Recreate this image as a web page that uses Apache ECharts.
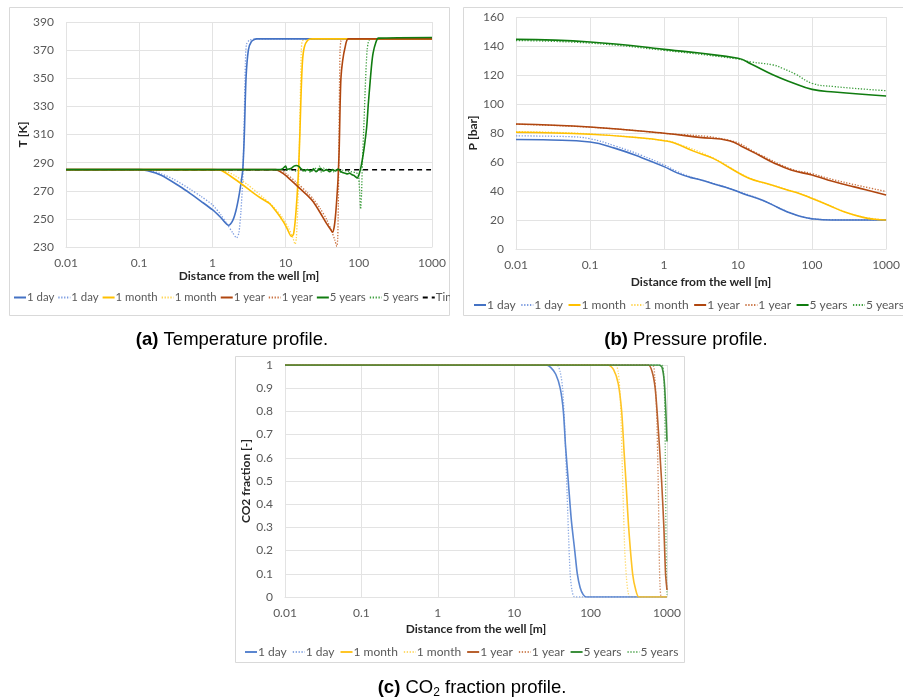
<!DOCTYPE html>
<html>
<head>
<meta charset="utf-8">
<title>Temperature, pressure and CO2 fraction profiles</title>
<script src="https://cdn.jsdelivr.net/npm/echarts@6/dist/echarts.min.js"></script>
<style>
  html, body { margin: 0; padding: 0; background: #ffffff; }
  #chart { width: 903px; height: 700px; }
</style>
</head>
<body>
<div id="chart"></div>
<script>
// ---- tick labels and legend labels ----
const xTicks = ['0.01', '0.1', '1', '10', '100', '1000'];
const caseLabels = ['1 day', '1 month', '1 year', '5 years'];
const injLabel = 'Tinj';

// ---- (a) temperature [K] vs distance [m] ----
const tDay = [[0.01,285],[0.1,285],[0.13,284.2],[0.2,281],[0.36,273],[0.5,268],[0.7,262.5],[1,256.5],[1.3,251],[1.66,245.5],[1.9,249],[2.1,256],[2.3,266],[2.5,278],[2.6,285],[2.73,310],[2.88,350],[3.1,370],[3.4,376],[4,378],[1000,378]];
const tDayDot = [[0.01,285],[0.12,285],[0.2,282],[0.3,278],[0.5,271],[0.7,266],[1,260],[1.3,253],[1.6,246],[1.9,240],[2.14,236.5],[2.3,240],[2.45,255],[2.6,278],[2.72,320],[2.82,360],[2.92,374],[3.2,377],[4,378],[1000,378]];
const tMonth = [[0.01,285],[1,285],[1.3,284.5],[1.7,281],[2.4,275.5],[3.5,269],[4.5,265],[6,261],[7.5,255],[9.3,248],[10.5,243],[12,237.5],[12.8,239],[13.5,248],[14.3,265],[15,284],[15.7,312],[16.3,340],[17,362],[18,372],[20,377],[23,378],[1000,378]];
const tMonthDot = [[0.01,285],[1.1,285],[1.4,284.5],[2,281],[3,274.5],[5,265],[7,258],[9.3,250],[11,243.5],[12.5,237],[13.5,232],[14,236],[14.6,255],[15.2,285],[15.8,330],[16.4,370],[17,376.5],[19,377.5],[25,378],[1000,378]];
const tYear = [[0.01,285],[7.4,285],[8.5,283.5],[10,281],[14,274],[20,266.5],[24,262],[30,254],[36,247],[40,243.5],[43.7,240.5],[46,244],[48,252],[50,264],[52,278],[54,300],[55.5,330],[57,350],[60,362],[65,372],[72,378],[1000,378]];
const tYearDot = [[0.01,285],[8,285],[10,282.5],[14,276],[20,268.5],[24,264],[30,257],[36,250],[42,242],[47,235],[50,230.5],[51.5,236],[52.5,260],[53.5,300],[54.5,345],[55.5,370],[57,376.5],[60,377.5],[75,378],[1000,378]];
const t5y = [[0.01,285],[8,285],[9,285.5],[10,287.5],[10.5,285],[11,285.5],[12,286],[13,287.5],[14,288],[15,287.5],[16,286],[17,285],[18,284.5],[20,285],[22,284],[24,285.5],[26,283.5],[28,285],[30,286],[33,284],[36,285],[40,283.5],[44,285],[48,284],[52,285.5],[56,284],[60,283],[65,282.5],[70,282],[75,282.5],[80,281.5],[85,281],[90,280],[95,279],[100,281],[105,285],[110,290],[118,300],[128,315],[135,332],[141,344],[150,360],[157,368],[170,375],[185,378.5],[1000,379]];
const t5yDot = [[0.01,285],[9,285],[10,284.5],[12,285],[14,284],[16,285.5],[18,283.5],[20,285],[22,283],[25,286.5],[27,284],[29,287.5],[31,283],[33,286],[36,284.5],[40,285.5],[45,283.5],[50,285],[55,283],[60,284.5],[70,284],[80,283.5],[90,283],[97,282],[100,279],[103,268],[106,257],[109,268],[112,290],[118,320],[124,350],[130,370],[138,377],[160,378],[1000,378.5]];
const tInj = [[0.01,285],[1000,285]];

// ---- (b) pressure [bar] vs distance [m] ----
const pDay = [[0.01,75.5],[0.03,75.2],[0.1,73.8],[0.22,69.4],[0.5,63],[1,56.8],[1.5,52.5],[2.25,49.4],[3,48],[5,44.5],[7.6,41.8],[12,38],[21,33.8],[35,28.5],[52,24.6],[75,22],[100,20.8],[180,20],[1000,20]];
const pDayDot = [[0.01,78],[0.05,77.5],[0.1,76],[0.22,71],[0.5,64.5],[1,58],[1.5,53.5],[2.25,49.8],[3,48],[7.6,41.8],[21,33.8],[52,24.8],[100,21],[180,20.2],[1000,20]];
const pMonth = [[0.01,80.5],[0.1,79.1],[0.5,76.5],[1,74.7],[1.35,73.3],[2.5,67.5],[4.6,62.5],[8,55.5],[14,48.8],[25,45],[43,41.2],[70,38],[98,35],[170,30],[270,25.7],[490,21.8],[700,20.5],[1000,20]];
const pMonthDot = [[0.01,81],[0.1,79.4],[1,74.9],[1.35,73.5],[4.6,62.8],[14,49.2],[43,41.5],[98,35.3],[270,25.9],[490,22],[1000,20.1]];
const pYear = [[0.01,86.2],[0.1,84.1],[1,79.8],[3,77],[7.6,74.7],[12,70],[19,64.8],[30,59.5],[52,54.5],[100,51],[163,47.6],[300,44],[447,41.8],[1000,37.2]];
const pYearDot = [[0.01,86],[0.1,84],[1,79.8],[7.6,75],[19,65.5],[52,55.2],[100,52],[163,48.8],[447,43.5],[1000,39.7]];
const p5y = [[0.01,144.6],[0.1,142.8],[1,137.7],[10,131.5],[15,127.6],[30,120],[50,115.4],[100,110.1],[200,108.3],[1000,105.5]];
const p5yDot = [[0.01,143.8],[0.1,142],[1,137],[10,131],[15,129],[30,126.9],[40,124.6],[60,120.5],[100,114.3],[200,112],[1000,109.2]];

// ---- (c) CO2 fraction [-] vs distance [m] ----
const cDay = [[0.01,1],[26,1],[30,0.99],[35,0.96],[40,0.9],[44,0.8],[47,0.65],[51,0.5],[56,0.33],[62,0.2],[67,0.1],[73,0.04],[80,0.01],[88,0],[1000,0]];
const cDayDot = [[0.01,1],[36,1],[40,0.97],[43,0.9],[46,0.72],[48.6,0.5],[51,0.3],[54,0.1],[57,0.03],[62,0],[1000,0]];
const cMonth = [[0.01,1],[170,1],[200,0.98],[230,0.92],[255,0.8],[275,0.62],[290,0.5],[315,0.3],[355,0.1],[390,0.03],[430,0],[1000,0]];
const cMonthDot = [[0.01,1],[210,1],[230,0.97],[245,0.85],[263,0.5],[280,0.2],[295,0.08],[310,0.02],[330,0],[1000,0]];
const cYear = [[0.01,1],[570,1],[640,0.97],[700,0.9],[760,0.75],[850,0.5],[910,0.3],[957,0.1],[1000,0.03]];
const cYearDot = [[0.01,1],[640,1],[690,0.95],[730,0.8],[767,0.5],[790,0.2],[810,0.05],[850,0],[1000,0]];
const c5y = [[0.01,1],[790,1],[860,0.99],[920,0.93],[960,0.82],[1000,0.67]];
const c5yDot = [[0.01,1],[850,1],[900,0.97],[930,0.85],[955,0.55],[970,0.25],[985,0.07],[1000,0.01]];

// ---- styling ----
const FONT = 'Lato';
const LABEL_COLOR = '#595959';
const NAME_COLOR = '#262626';
const GRID_COLOR = '#e3e3e3';
const solidColorsAB = ['#4472c4', '#ffc000', '#b0460f', '#107c10'];
const dotColorsAB = ['#7b9be0', '#ffd44f', '#c9703f', '#3f9f3f'];
const solidColorsC = ['#5b86d0', '#ffc526', '#b8612f', '#3d8f3d'];
const dotColorsC = ['#8eabe3', '#ffdb6e', '#d08a60', '#6fb56f'];

const chart = echarts.init(document.getElementById('chart'), null, { renderer: 'canvas' });

// legend names must be unique across panels; zero-width suffixes keep the text identical
let nameCounter = 0;
function uniqueName(label) {
  nameCounter += 1;
  return label + '\u200b'.repeat(nameCounter);
}

const series = [];
const legendNames = [[], [], []];

function addLine(panel, label, data, color, style) {
  const name = style === 'inj' ? label : uniqueName(label);
  legendNames[panel].push(name);
  let lineStyle;
  if (style === 'solid') lineStyle = { color, width: 1.6, type: 'solid' };
  else if (style === 'dotted') lineStyle = { color, width: 1.3, type: [1.3, 1.6] };
  else lineStyle = { color, width: 1.5, type: [5, 4] };
  series.push({
    type: 'line',
    name,
    xAxisIndex: panel,
    yAxisIndex: panel,
    data,
    showSymbol: false,
    symbol: 'none',
    // pressure profiles are gently curved; the sharp fronts in (a) and (c) keep a lighter smoothing
    smooth: panel === 1 ? 0.45 : 0.25,
    lineStyle,
    itemStyle: { color },
    emphasis: { disabled: true },
    animation: false,
    z: style === 'solid' ? 3 : 2
  });
}

const tempSets = [[tDay, tDayDot], [tMonth, tMonthDot], [tYear, tYearDot], [t5y, t5yDot]];
const presSets = [[pDay, pDayDot], [pMonth, pMonthDot], [pYear, pYearDot], [p5y, p5yDot]];
const fracSets = [[cDay, cDayDot], [cMonth, cMonthDot], [cYear, cYearDot], [c5y, c5yDot]];

tempSets.forEach((pair, i) => {
  addLine(0, caseLabels[i], pair[0], solidColorsAB[i], 'solid');
  addLine(0, caseLabels[i], pair[1], dotColorsAB[i], 'dotted');
});
addLine(0, injLabel, tInj, '#000000', 'inj');

presSets.forEach((pair, i) => {
  addLine(1, caseLabels[i], pair[0], solidColorsAB[i], 'solid');
  addLine(1, caseLabels[i], pair[1], dotColorsAB[i], 'dotted');
});

fracSets.forEach((pair, i) => {
  addLine(2, caseLabels[i], pair[0], solidColorsC[i], 'solid');
  addLine(2, caseLabels[i], pair[1], dotColorsC[i], 'dotted');
});

function logLabel(v) {
  const k = Math.round(Math.log10(v)) + 2;
  return xTicks[k] !== undefined ? xTicks[k] : '';
}

function xAxis(gridIndex, nameGap) {
  return {
    type: 'log',
    logBase: 10,
    gridIndex,
    min: 0.01,
    max: 1000,
    name: 'Distance from the well [m]',
    nameLocation: 'middle',
    nameGap,
    nameTextStyle: { fontFamily: FONT, fontSize: 12, fontWeight: 'bold', color: NAME_COLOR },
    axisLine: { show: true, lineStyle: { color: GRID_COLOR, width: 1 } },
    axisTick: { show: false },
    minorTick: { show: false },
    axisLabel: { fontFamily: FONT, fontSize: 12, color: LABEL_COLOR, margin: 10, formatter: logLabel },
    splitLine: { show: true, lineStyle: { color: GRID_COLOR, width: 1 } }
  };
}

function yAxis(gridIndex, name, min, max, interval, nameGap, fmt) {
  return {
    type: 'value',
    gridIndex,
    min,
    max,
    interval,
    name,
    nameLocation: 'middle',
    nameGap,
    nameTextStyle: { fontFamily: FONT, fontSize: 12, fontWeight: 'bold', color: NAME_COLOR },
    axisLine: { show: false },
    axisTick: { show: false },
    axisLabel: { fontFamily: FONT, fontSize: 12, color: LABEL_COLOR, margin: 12, formatter: fmt },
    splitLine: { show: true, lineStyle: { color: GRID_COLOR, width: 1 } }
  };
}

function legend(panel, left, top, fontSize, gap) {
  return {
    data: legendNames[panel],
    left,
    top,
    width: 700,
    orient: 'horizontal',
    itemWidth: 12,
    itemHeight: 10,
    itemGap: gap,
    selectedMode: false,
    // the line icon only, no marker dot in the middle
    itemStyle: { opacity: 0, borderWidth: 0 },
    textStyle: { fontFamily: FONT, fontSize, color: LABEL_COLOR, padding: [0, 0, 0, -4] }
  };
}

function panelBox(x, y, w, h) {
  return {
    type: 'rect',
    silent: true,
    z: -10,
    shape: { x: x + 0.5, y: y + 0.5, width: w, height: h },
    style: { fill: '#ffffff', stroke: '#d9d9d9', lineWidth: 1 }
  };
}

function caption(x, y, text) {
  return {
    type: 'text',
    silent: true,
    x,
    y,
    style: {
      text,
      align: 'center',
      verticalAlign: 'middle',
      fontFamily: 'Liberation Sans',
      fontSize: 18.5,
      fill: '#000000',
      rich: {
        b: { fontFamily: 'Liberation Sans', fontSize: 18.5, fontWeight: 'bold', fill: '#000000' },
        s: { fontFamily: 'Liberation Sans', fontSize: 12, fill: '#000000', padding: [10, 0, 0, 0] }
      }
    }
  };
}

const option = {
  backgroundColor: '#ffffff',
  animation: false,
  grid: [
    { left: 66, top: 22, width: 366, height: 225 },
    { left: 516, top: 17, width: 377, height: 232 },
    { left: 285, top: 365, width: 382, height: 232 }
  ],
  xAxis: [xAxis(0, 23), xAxis(1, 27), xAxis(2, 26)],
  yAxis: [
    yAxis(0, 'T [K]', 230, 390, 20, 37, v => String(v)),
    yAxis(1, 'P [bar]', 0, 160, 20, 33, v => String(v)),
    yAxis(2, 'CO2 fraction [-]', 0, 1, 0.1, 32, v => String(Math.round(v * 10) / 10))
  ],
  legend: [
    legend(0, 8, 287, 11.4, 3),
    legend(1, 468, 294, 12, 4.5),
    legend(2, 239, 641, 12, 5)
  ],
  graphic: [
    panelBox(9, 7, 440, 308),
    panelBox(463, 7, 445, 308),
    panelBox(235, 356, 449, 306),
    // the gap between panels (a) and (b) stays blank where the (a) legend runs past its frame
    {
      type: 'rect',
      silent: true,
      z: 100,
      shape: { x: 450, y: 286, width: 12.5, height: 22 },
      style: { fill: '#ffffff' }
    },
    caption(232, 340, '{b|(a)} Temperature profile.'),
    caption(686, 340, '{b|(b)} Pressure profile.'),
    caption(472, 688, '{b|(c)} CO{s|2} fraction profile.')
  ],
  series
};

chart.setOption(option);
</script>
</body>
</html>
